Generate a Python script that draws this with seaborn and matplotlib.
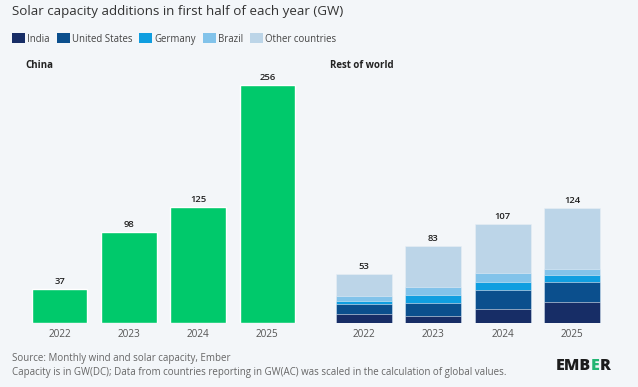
import matplotlib.pyplot as plt
from matplotlib.patches import Rectangle
import seaborn as sns
import pandas as pd

years = ["2022", "2023", "2024", "2025"]
china = [37, 98, 125, 256]

row_series = ["India", "United States", "Germany", "Brazil", "Other countries"]
india = [10, 7, 15, 23]
united_states = [10, 15, 20, 21]
germany = [4, 8, 9, 8]
brazil = [5, 9, 10, 6]
other = [24, 44, 53, 66]
row_totals = [53, 83, 107, 124]

colors = ["#172d66", "#0b4f8d", "#0f9ee0", "#82c3ea", "#bcd5e8"]
green = "#00c96b"
bg = "#f3f6f9"


def main():
    sns.set_style("white")
    plt.rcParams["font.family"] = ["Open Sans", "DejaVu Sans"]

    fig = plt.figure(figsize=(6.38, 3.87), dpi=100)
    fig.patch.set_facecolor(bg)

    bottom = (387 - 323) / 387
    height = 251 / 387
    ax1 = fig.add_axes([25 / 638, bottom, 277 / 638, height])
    ax2 = fig.add_axes([329 / 638, bottom, 278 / 638, height])

    # China
    df_cn = pd.DataFrame({"year": years, "value": china})
    sns.barplot(data=df_cn, x="year", y="value", color=green, width=0.8,
                saturation=1, ax=ax1)
    for i, v in enumerate(china):
        ax1.text(i, v + 3, str(v), ha="center", va="bottom", fontsize=6.8,
                 color="#222222", fontweight="semibold")

    # Rest of world, stacked by drawing cumulative sums from the top down
    df = pd.DataFrame({"year": years, "India": india, "United States": united_states,
                       "Germany": germany, "Brazil": brazil, "Other countries": other})
    cum = df[row_series].cumsum(axis=1)
    for name, col in zip(row_series[::-1], colors[::-1]):
        sns.barplot(x=df["year"], y=cum[name], color=col, width=0.8,
                    saturation=1, edgecolor="#e8eef5", linewidth=0.4, ax=ax2)
    for i, v in enumerate(row_totals):
        ax2.text(i, v + 3, str(v), ha="center", va="bottom", fontsize=6.8,
                 color="#222222", fontweight="semibold")

    for ax in (ax1, ax2):
        ax.set_facecolor(bg)
        ax.set_ylim(0, 270)
        ax.set_xlim(-0.5, 3.5)
        ax.set_xlabel("")
        ax.set_ylabel("")
        ax.set_yticks([])
        for s in ax.spines.values():
            s.set_visible(False)
        ax.tick_params(axis="x", length=0, pad=4, labelsize=7.2, labelcolor="#555555")

    fig.text(12 / 638, 1 - 11 / 387, "Solar capacity additions in first half of each year (GW)",
             fontsize=9.6, color="#333333", va="center", ha="left")

    # legend drawn by hand so the labels sit on one baseline
    ly = 1 - 38 / 387
    x = 12
    for name, col in zip(row_series, colors):
        fig.add_artist(Rectangle((x / 638, ly - 4.5 / 387), 13 / 638, 9 / 387,
                                 transform=fig.transFigure, facecolor=col, edgecolor="none"))
        t = fig.text((x + 15) / 638, ly, name, fontsize=6.9, color="#444444",
                     va="center_baseline")
        fig.canvas.draw()
        bb = t.get_window_extent()
        x = bb.x1 + 7

    fig.text(25 / 638, 1 - 65 / 387, "China", fontsize=7, fontweight="bold",
             color="#222222", va="center")
    fig.text(330 / 638, 1 - 65 / 387, "Rest of world", fontsize=7, fontweight="bold",
             color="#222222", va="center")

    fig.text(12 / 638, 1 - 358 / 387, "Source: Monthly wind and solar capacity, Ember",
             fontsize=7, color="#666666", va="center")
    fig.text(12 / 638, 1 - 372 / 387,
             "Capacity is in GW(DC); Data from countries reporting in GW(AC) was scaled in the calculation of global values.",
             fontsize=7, color="#666666", va="center")

    # logo
    lx, ly = 556 / 638, 1 - 366 / 387
    t = fig.text(lx, ly, "EMB", fontsize=11.5, fontweight="heavy", color="#1c1c1c", va="center")
    fig.canvas.draw()
    bb = t.get_window_extent().transformed(fig.transFigure.inverted())
    t2 = fig.text(bb.x1, ly, "E", fontsize=11.5, fontweight="heavy", color="#22b573", va="center")
    fig.canvas.draw()
    bb2 = t2.get_window_extent().transformed(fig.transFigure.inverted())
    fig.text(bb2.x1, ly, "R", fontsize=11.5, fontweight="heavy", color="#1c1c1c", va="center")

    plt.savefig("out.png", dpi=100, facecolor=bg)


main()
